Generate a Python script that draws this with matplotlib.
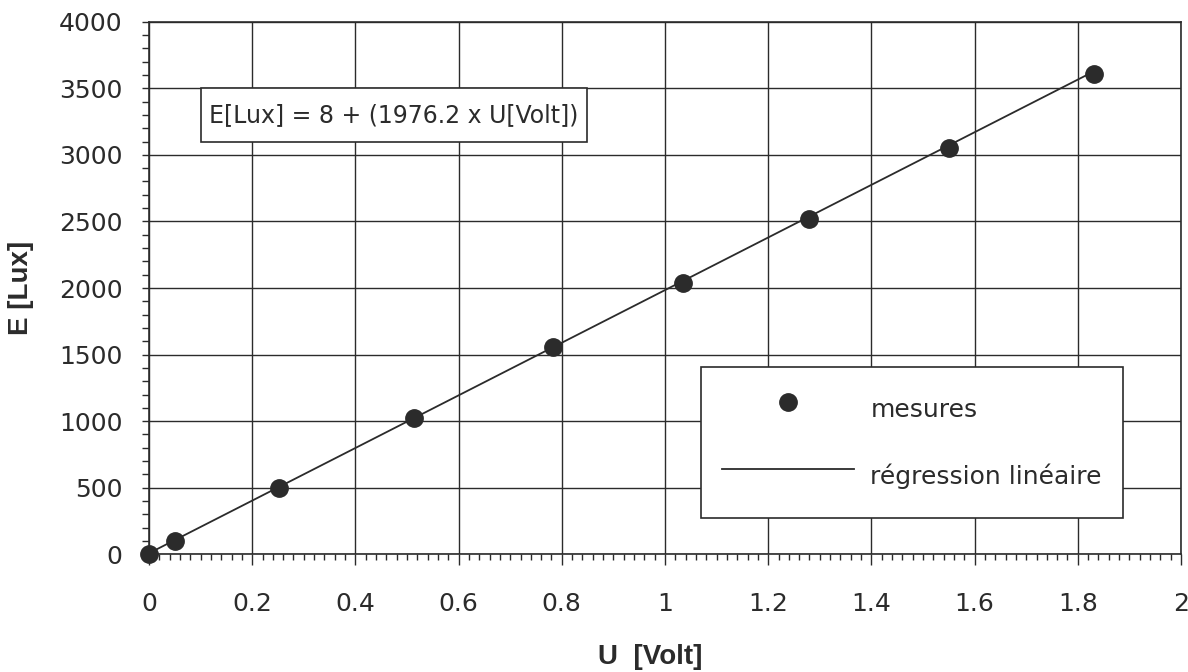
import matplotlib
matplotlib.use("Agg")
import matplotlib.pyplot as plt
from matplotlib.patches import Rectangle
from matplotlib.ticker import MultipleLocator, FuncFormatter

# ---- data ----
u_volt = [0.0, 0.05, 0.252, 0.514, 0.782, 1.034, 1.28, 1.551, 1.832]
e_lux = [0, 100, 500, 1021, 1554, 2035, 2516, 3049, 3607]
fit_intercept = 8.0
fit_slope = 1976.2
equation_text = "E[Lux] = 8 + (1976.2 x U[Volt])"
xlabel = "U  [Volt]"
ylabel = "E [Lux]"
legend_labels = ["mesures", "régression linéaire"]

plt.rcParams['font.family'] = ['DejaVu Sans']
ink = "#2b2b2b"

fig = plt.figure(figsize=(11.88, 6.72), dpi=100)
ax = fig.add_axes([149 / 1188, 1 - 554.3 / 672, (1181 - 149) / 1188, (554.3 - 21.7) / 672])

# regression line over measured range
x_fit = [min(u_volt), max(u_volt)]
y_fit = [fit_intercept + fit_slope * x for x in x_fit]
line, = ax.plot(x_fit, y_fit, color=ink, lw=1.3, zorder=3)
pts, = ax.plot(u_volt, e_lux, 'o', color=ink, ms=12.5, mec=ink, zorder=4, clip_on=False)

ax.set_xlim(0, 2)
ax.set_ylim(0, 4000)
ax.xaxis.set_major_locator(MultipleLocator(0.2))
ax.xaxis.set_minor_locator(MultipleLocator(0.02))
ax.yaxis.set_major_locator(MultipleLocator(500))
ax.yaxis.set_minor_locator(MultipleLocator(100))
ax.xaxis.set_major_formatter(FuncFormatter(lambda v, p: ("%g" % round(v, 2))))
ax.grid(True, which='major', color=ink, lw=1.0)
ax.set_axisbelow(True)
for s in ax.spines.values():
    s.set_color(ink)
    s.set_linewidth(1.2)

ax.tick_params(axis='both', which='both', direction='out', color=ink, width=1.0)
ax.tick_params(axis='x', which='major', length=8, pad=19, labelsize=18, labelcolor=ink)
ax.tick_params(axis='x', which='minor', length=4)
ax.tick_params(axis='y', which='major', length=5, pad=14, labelsize=18, labelcolor=ink)
ax.tick_params(axis='y', which='minor', length=5)

ax.set_xlabel(xlabel, fontsize=20, fontweight='bold', family='Liberation Sans', color=ink)
ax.xaxis.set_label_coords((649.7 - 149) / 1032, -(657 - 554.3) / 532.6)
ax.xaxis.label.set_va('center')
ax.set_ylabel(ylabel, fontsize=20, fontweight='bold', family='Liberation Sans', color=ink)
ax.yaxis.set_label_coords(-(149 - 21.5) / 1032, 0.5)
ax.yaxis.label.set_va('center')

# equation box
ax.add_patch(Rectangle((0.0504, 0.7747), 0.4247 - 0.0504, 0.875 - 0.7747,
                       transform=ax.transAxes, facecolor='white', edgecolor=ink,
                       lw=1.2, zorder=5))
ax.text(0.2374, 0.8248, equation_text, transform=ax.transAxes, ha='center', va='center',
        fontsize=17, color=ink, zorder=6)

# legend
lx0 = 700.7 / 1188
lx1 = 1123.3 / 1188
ltop = 1 - 366.7 / 672
leg = fig.legend([pts, line], legend_labels, loc='upper left',
                 bbox_to_anchor=(lx0, ltop, lx1 - lx0, 0.0), mode='expand',
                 fontsize=18, frameon=True, fancybox=False, framealpha=1,
                 edgecolor=ink, borderpad=0.85, labelspacing=1.0,
                 handlelength=5.3, handletextpad=0.64, handleheight=2.2,
                 borderaxespad=0.0, labelcolor=ink)
leg.get_frame().set_linewidth(1.2)

fig.savefig("out.png", dpi=100, facecolor='white')
